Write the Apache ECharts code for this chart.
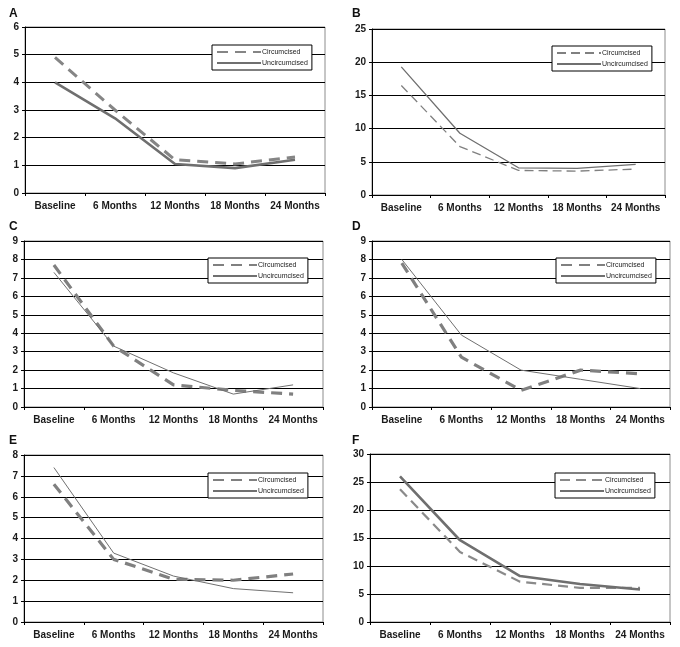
<!DOCTYPE html>
<html>
<head>
<meta charset="utf-8">
<script src="https://cdn.jsdelivr.net/npm/echarts@6/dist/echarts.min.js"></script>
<style>
  html, body { margin: 0; padding: 0; background: #fff; }
  #chart { width: 680px; height: 647px; }
</style>
</head>
<body>
<div id="chart"></div>
<script>
  var categories = ['Baseline', '6 Months', '12 Months', '18 Months', '24 Months'];
  var seriesNames = ['Circumcised', 'Uncircumcised'];
  var panelLetters = ['A', 'B', 'C', 'D', 'E', 'F'];

  // values
  var circA = [4.9, 3.0, 1.2, 1.05, 1.3];
  var uncircA = [4.0, 2.7, 1.05, 0.9, 1.2];
  var circB = [16.5, 7.3, 3.7, 3.6, 3.9];
  var uncircB = [19.3, 9.3, 4.1, 4.0, 4.6];
  var circC = [7.7, 3.3, 1.2, 0.9, 0.7];
  var uncircC = [7.3, 3.3, 1.85, 0.7, 1.2];
  var circD = [7.8, 2.7, 0.9, 2.0, 1.8];
  var uncircD = [8.0, 3.9, 2.0, 1.5, 1.0];
  var circE = [6.6, 3.0, 2.05, 2.0, 2.3];
  var uncircE = [7.4, 3.3, 2.2, 1.6, 1.4];
  var circF = [23.7, 12.5, 7.2, 6.1, 6.1];
  var uncircF = [26.0, 14.6, 8.2, 6.8, 5.8];

  var yMax = [6, 25, 9, 9, 8, 30];
  var yStep = [1, 5, 1, 1, 1, 5];

  var circData = [circA, circB, circC, circD, circE, circF];
  var uncircData = [uncircA, uncircB, uncircC, uncircD, uncircE, uncircF];

  // layout of each panel
  var grids = [
    { left: 25, top: 27, width: 300, height: 166 },
    { left: 372, top: 29, width: 293, height: 166 },
    { left: 24, top: 241, width: 299, height: 166 },
    { left: 372, top: 241, width: 298, height: 166 },
    { left: 24, top: 455, width: 299, height: 167 },
    { left: 370, top: 454, width: 300, height: 168 }
  ];
  var legendPos = [
    { left: 212, top: 45 },
    { left: 552, top: 46 },
    { left: 208, top: 258 },
    { left: 556, top: 258 },
    { left: 208, top: 473 },
    { left: 555, top: 473 }
  ];
  var letterPos = [
    { left: 9, top: 8 },
    { left: 352, top: 8 },
    { left: 9, top: 221 },
    { left: 352, top: 221 },
    { left: 9, top: 435 },
    { left: 352, top: 435 }
  ];
  // line styles per panel: [circumcised, uncircumcised]
  var lineStyles = [
    [{ width: 3, type: [11, 7], color: '#858585' }, { width: 2.6, type: 'solid', color: '#6f6f6f' }],
    [{ width: 1.3, type: [9, 5], color: '#808080' }, { width: 1.3, type: 'solid', color: '#6f6f6f' }],
    [{ width: 3.2, type: [11, 7], color: '#808080' }, { width: 1, type: 'solid', color: '#707070' }],
    [{ width: 3.2, type: [11, 7], color: '#808080' }, { width: 1, type: 'solid', color: '#707070' }],
    [{ width: 3.2, type: [11, 7], color: '#808080' }, { width: 1, type: 'solid', color: '#707070' }],
    [{ width: 2.2, type: [10, 6], color: '#8a8a8a' }, { width: 2.6, type: 'solid', color: '#6f6f6f' }]
  ];

  var chart = echarts.init(document.getElementById('chart'));

  var option = {
    animation: false,
    backgroundColor: '#fff',
    textStyle: { fontFamily: 'Liberation Sans, Arial, sans-serif' },
    title: [],
    legend: [],
    grid: [],
    xAxis: [],
    yAxis: [],
    series: []
  };

  for (var i = 0; i < 6; i++) {
    option.title.push({
      text: panelLetters[i],
      left: letterPos[i].left,
      top: letterPos[i].top,
      padding: 0,
      textStyle: { fontSize: 12, fontWeight: 'bold', color: '#111' }
    });
    option.grid.push({
      left: grids[i].left, top: grids[i].top,
      width: grids[i].width, height: grids[i].height,
      show: true, borderColor: '#8c8c8c', borderWidth: 1,
      backgroundColor: 'transparent'
    });
    option.xAxis.push({
      type: 'category',
      gridIndex: i,
      data: categories,
      boundaryGap: true,
      axisLine: { lineStyle: { color: '#000', width: 1 } },
      axisTick: { show: true, length: 3, lineStyle: { color: '#000' } },
      axisLabel: { fontSize: 10, fontWeight: 'bold', color: '#1a1a1a', margin: 8, interval: 0 }
    });
    option.yAxis.push({
      type: 'value',
      gridIndex: i,
      min: 0,
      max: yMax[i],
      interval: yStep[i],
      axisLine: { show: true, lineStyle: { color: '#000', width: 1 } },
      axisTick: { show: true, length: 3, lineStyle: { color: '#000' } },
      axisLabel: { fontSize: 10, fontWeight: 'bold', color: '#1a1a1a', margin: 6 },
      splitLine: { show: true, lineStyle: { color: '#000', width: 1 } }
    });
    var names = [seriesNames[0] + ' ' + panelLetters[i], seriesNames[1] + ' ' + panelLetters[i]];
    option.legend.push({
      data: names,
      orient: 'vertical',
      left: legendPos[i].left,
      top: legendPos[i].top,
      padding: [3, 4, 3, 4],
      itemGap: 3,
      itemWidth: 44,
      itemHeight: 10,
      backgroundColor: '#fff',
      borderColor: '#000',
      borderWidth: 1,
      borderRadius: 0,
      selectedMode: false,
      itemStyle: { opacity: 0, borderWidth: 0 },
      formatter: function (n) { return n.split(' ')[0]; },
      textStyle: { fontSize: 7, color: '#222', padding: [0, 0, 0, -4] }
    });
    option.series.push({
      name: names[0],
      type: 'line',
      xAxisIndex: i,
      yAxisIndex: i,
      data: circData[i],
      symbol: 'none',
      lineStyle: lineStyles[i][0],
      itemStyle: { color: lineStyles[i][0].color },
      z: 3
    });
    option.series.push({
      name: names[1],
      type: 'line',
      xAxisIndex: i,
      yAxisIndex: i,
      data: uncircData[i],
      symbol: 'none',
      lineStyle: lineStyles[i][1],
      itemStyle: { color: lineStyles[i][1].color },
      z: 3
    });
  }

  chart.setOption(option);
</script>
</body>
</html>
